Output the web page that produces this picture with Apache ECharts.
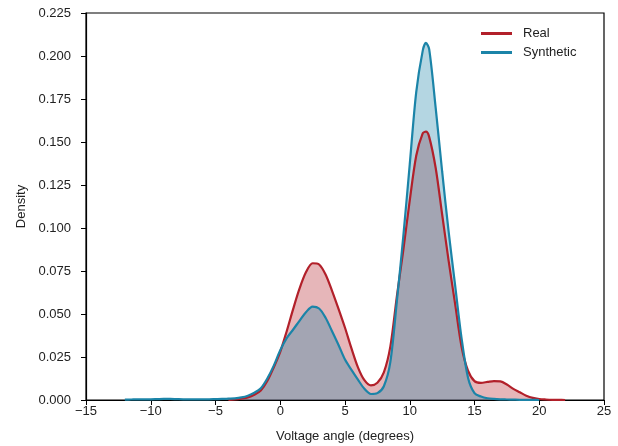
<!DOCTYPE html>
<html>
<head>
<meta charset="utf-8">
<title>Voltage angle density</title>
<script src="https://cdn.jsdelivr.net/npm/echarts@6/dist/echarts.min.js"></script>
<style>
    html, body { margin: 0; padding: 0; background: #fff; }
    #kde-chart { width: 618px; height: 446px; }
</style>
</head>
<body>
<div id="kde-chart"></div>
<script>
// 电压角 (degrees)
const angles = [
    -12, -11.5, -11, -10.5, -10, -9.5, -9, -8.5, -8, -7.5, -7, -6.5, -6, -5.5, -5, -4.5,
    -4, -3.5, -3, -2.5, -2, -1.5, -1, -0.5, 0, 0.5, 1, 1.5, 2, 2.5, 3, 3.5,
    4, 4.5, 5, 5.5, 6, 6.5, 7, 7.5, 8, 8.5, 9, 9.5, 10, 10.5, 11, 11.25, 11.5,
    12, 12.5, 13, 13.5, 14, 14.5, 15, 15.5, 16, 16.5, 17, 17.5, 18, 18.5, 19, 19.5,
    20, 20.5, 21, 21.5, 22
];
// Real density (null = not drawn)
const realDensity = [
    null, null, null, null, null, null, null, null, null, null, null, null, null, null, null, null,
    0.0001, 0.0003, 0.0008, 0.0015, 0.003, 0.0055, 0.011, 0.019, 0.028, 0.040, 0.053, 0.065, 0.0745, 0.0795, 0.0788, 0.073,
    0.0635, 0.053, 0.042, 0.030, 0.019, 0.0115, 0.0085, 0.010, 0.016, 0.031, 0.060, 0.087, 0.116, 0.142, 0.155, 0.156, 0.153,
    0.135, 0.108, 0.081, 0.056, 0.031, 0.017, 0.011, 0.010, 0.0105, 0.011, 0.0108, 0.009, 0.0065, 0.0045, 0.0025, 0.0012,
    0.0006, 0.0003, 0.0001, 0.00005, 0
];
// Synthetic density
const synthDensity = [
    0.0002, 0.0003, 0.0004, 0.0004, 0.0004, 0.0005, 0.0006, 0.0006, 0.0005, 0.0004, 0.0004, 0.0004, 0.0004, 0.0004, 0.0005, 0.0006,
    0.0008, 0.0010, 0.0015, 0.0025, 0.0042, 0.0068, 0.0125, 0.020, 0.029, 0.036, 0.041, 0.0462, 0.0512, 0.0543, 0.0532, 0.0478,
    0.040, 0.032, 0.0235, 0.0175, 0.0118, 0.0065, 0.0035, 0.004, 0.008, 0.022, 0.057, 0.095, 0.137, 0.179, 0.203, 0.2076, 0.204,
    0.170, 0.133, 0.098, 0.067, 0.036, 0.013, 0.004, 0.002, 0.001, 0.0006, 0.0004, 0.0003, 0.0002, 0.0001, 0.0001, 0.00005,
    0, null, null, null, null
];
const seriesNames = ['Real', 'Synthetic'];

const fontFamily = '"Liberation Sans", Arial, sans-serif';
const minus = v => String(v).replace('-', '\u2212');

function pairs (ys) {
    return angles.map((x, i) => [x, ys[i]]);
}

let myChart = echarts.init(document.getElementById('kde-chart'));

myChart.setOption({
    animation: false,
    textStyle: { fontFamily: fontFamily },
    grid: {
        left: 86,
        right: 14,
        top: 13,
        bottom: 46,
        outerBoundsMode: 'none',
        show: true,
        borderColor: '#000',
        borderWidth: 1.2,
        backgroundColor: 'transparent'
    },
    legend: {
        data: seriesNames,
        orient: 'vertical',
        left: 476,
        top: 22,
        icon: 'rect',
        itemWidth: 31,
        itemHeight: 3,
        itemGap: 6,
        textStyle: { fontSize: 13, color: '#222', padding: [0, 0, 0, 6] }
    },
    xAxis: {
        type: 'value',
        min: -15,
        max: 25,
        interval: 5,
        name: 'Voltage angle (degrees)',
        nameLocation: 'middle',
        nameGap: 30,
        nameTextStyle: { fontSize: 13, color: '#222' },
        axisLine: { onZero: false, lineStyle: { color: '#000', width: 1.2 } },
        axisTick: { show: true, length: 5, lineStyle: { color: '#000' } },
        axisLabel: { fontSize: 13, color: '#222', margin: 5, formatter: minus },
        splitLine: { show: false }
    },
    yAxis: {
        type: 'value',
        min: 0,
        max: 0.225,
        interval: 0.025,
        name: 'Density',
        nameLocation: 'middle',
        nameGap: 58,
        nameTextStyle: { fontSize: 13, color: '#222' },
        axisLine: { show: true, onZero: false, lineStyle: { color: '#000', width: 1.2 } },
        axisTick: { show: true, length: 5, lineStyle: { color: '#000' } },
        axisLabel: { fontSize: 13, color: '#222', margin: 15, formatter: v => v.toFixed(3) },
        splitLine: { show: false }
    },
    series: [
        {
            name: 'Real',
            type: 'line',
            data: pairs(realDensity),
            smooth: 0.3,
            showSymbol: false,
            symbol: 'none',
            connectNulls: false,
            lineStyle: { color: '#b2202a', width: 2.2 },
            itemStyle: { color: '#b2202a' },
            areaStyle: { color: 'rgba(178, 32, 42, 0.33)', opacity: 1, origin: 'start' }
        },
        {
            name: 'Synthetic',
            type: 'line',
            data: pairs(synthDensity),
            smooth: 0.3,
            showSymbol: false,
            symbol: 'none',
            connectNulls: false,
            lineStyle: { color: '#1b84a8', width: 2.2 },
            itemStyle: { color: '#1b84a8' },
            areaStyle: { color: 'rgba(27, 132, 168, 0.33)', opacity: 1, origin: 'start' }
        }
    ]
});
</script>
</body>
</html>
